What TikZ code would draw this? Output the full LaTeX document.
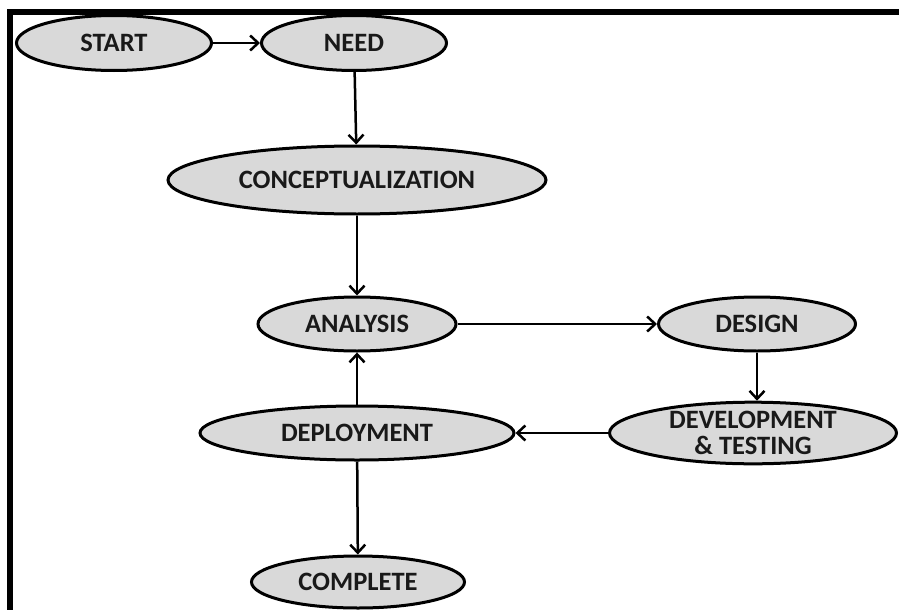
\documentclass[tikz,border=0pt]{standalone}
\usepackage{fontspec}
\setmainfont{Carlito}
\usetikzlibrary{shapes.geometric,arrows.meta}
\begin{document}
\begin{tikzpicture}[x=1pt,y=-1pt,
  proc/.style={ellipse, draw=black, line width=3pt, fill=black!15, inner sep=0pt,
    font=\fontsize{26.5}{26}\selectfont\bfseries, align=center, text=black!90},
  arr/.style={line width=2.5pt, -{Straight Barb[length=8pt,width=15pt,line width=2.5pt]}}]
\useasboundingbox (0,0) rectangle (899,610);
\draw[line width=6pt] (10,610) -- (10,12) -- (899,12);

\node[proc, minimum width=195pt, minimum height=55pt] (start) at (114,43) {START};
\node[proc, minimum width=185pt, minimum height=55pt] (need) at (354,43) {NEED};
\node[proc, minimum width=378pt, minimum height=68pt] (concept) at (357,180) {CONCEPTUALIZATION};
\node[proc, minimum width=198pt, minimum height=54pt] (analysis) at (357,324) {ANALYSIS};
\node[proc, minimum width=197pt, minimum height=54pt] (design) at (757,324) {DESIGN};
\node[proc, minimum width=287pt, minimum height=55pt] (dev) at (753,433) {DEVELOPMENT\\\& TESTING};
\node[proc, minimum width=314pt, minimum height=54pt] (deploy) at (357,433) {DEPLOYMENT};
\node[proc, minimum width=213pt, minimum height=52pt] (complete) at (358,582) {COMPLETE};

\draw[arr] (start) -- (need);
\draw[arr] (need) -- (concept);
\draw[arr] (concept) -- (analysis);
\draw[arr] (analysis) -- (design);
\draw[arr] (design.south) -- (design.south |- dev.north);
\draw[arr] (dev) -- (deploy);
\draw[arr] (deploy) -- (analysis);
\draw[arr] (deploy) -- (complete);
\end{tikzpicture}
\end{document}
